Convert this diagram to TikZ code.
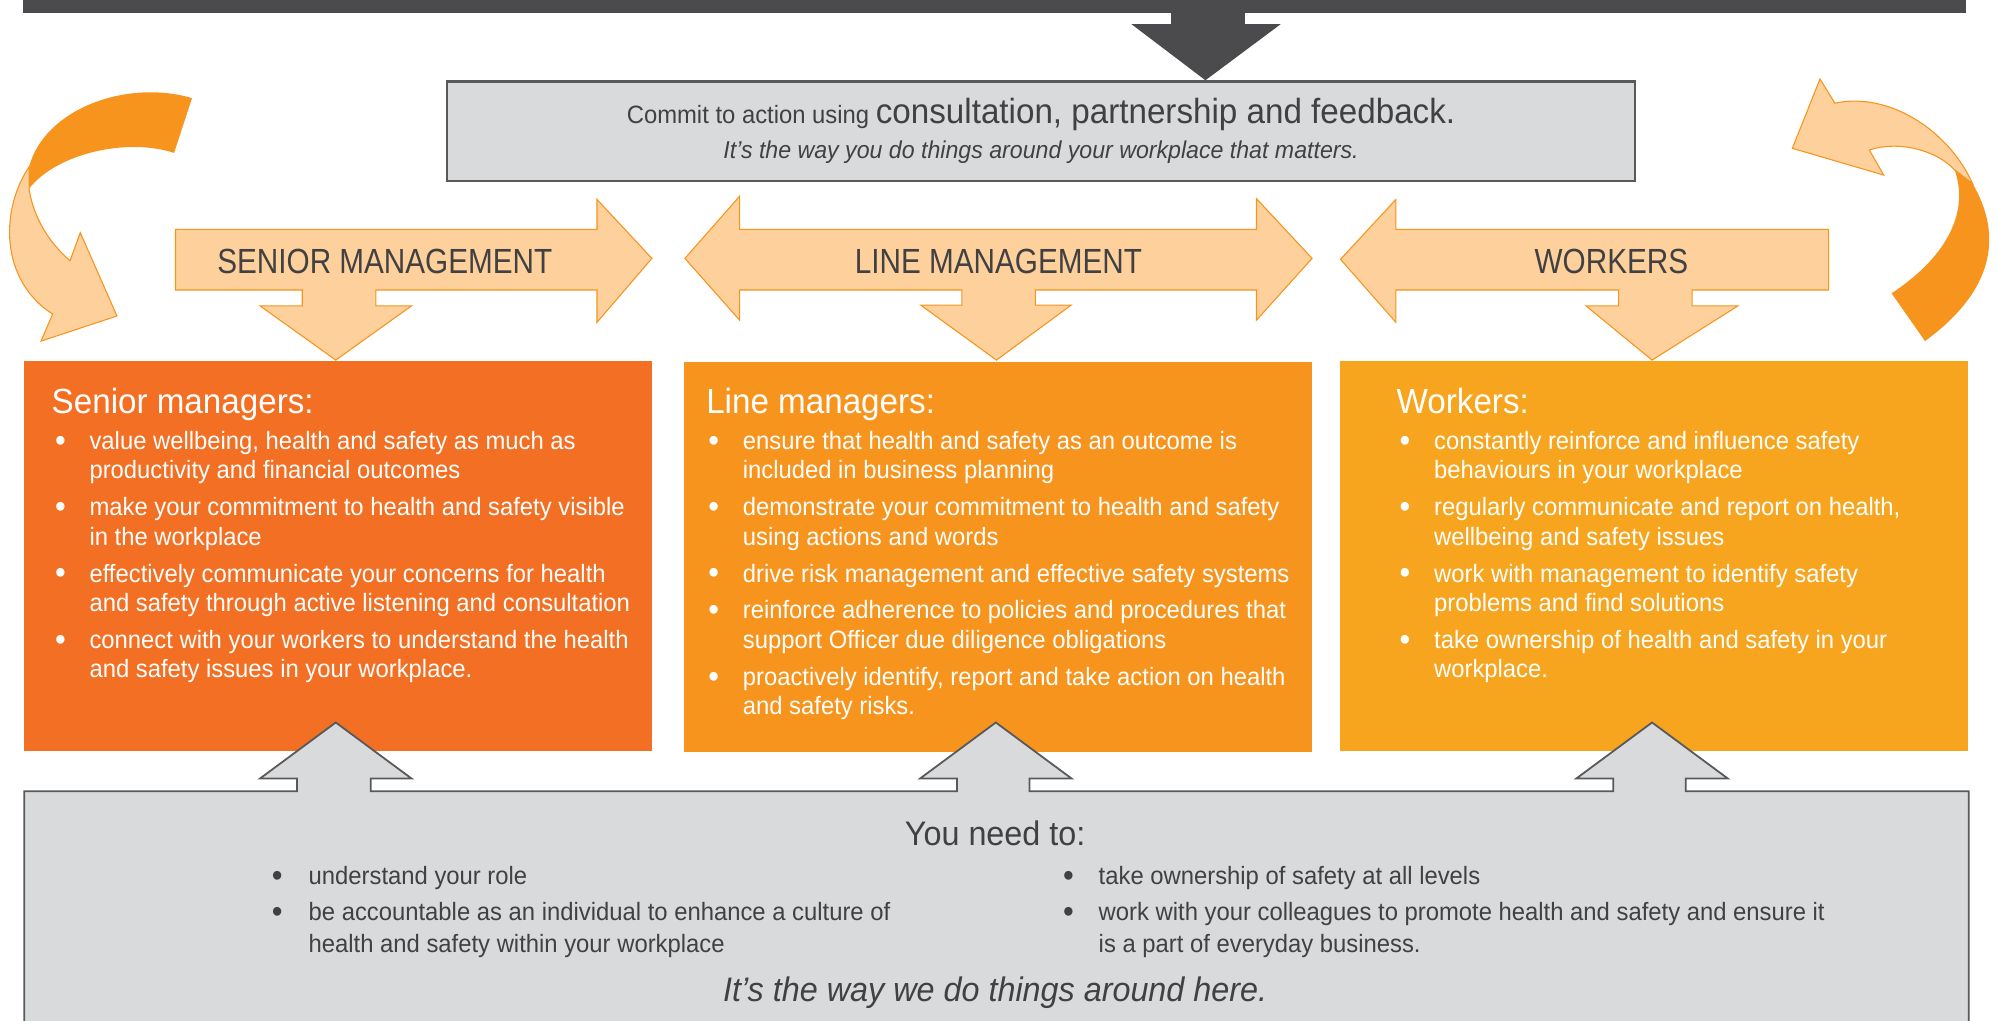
\documentclass[tikz,border=0pt]{standalone}
\usepackage{fontspec}
\setmainfont{Liberation Sans}[FakeStretch=0.95]
\newfontfamily\capsfont{Liberation Sans}[FakeStretch=0.85]
\usepackage{tikz}

\definecolor{bardark}{HTML}{4B4B4D}
\definecolor{panelgray}{HTML}{D9DADC}
\definecolor{edgegray}{HTML}{58595B}
\definecolor{textgray}{HTML}{414042}
\definecolor{seniororange}{HTML}{F26F23}
\definecolor{lineorange}{HTML}{F7941E}
\definecolor{workeramber}{HTML}{F7A51F}
\definecolor{peach}{HTML}{FDD09C}

\newcommand{\bodysize}{\fontsize{14}{16.4}\selectfont}
\newcommand{\panelsize}{\fontsize{14}{17.8}\selectfont}
\newcommand{\headsize}{\fontsize{19.5}{23}\selectfont}
\newcommand{\dotmark}{\raisebox{-1.1pt}{\fontsize{18}{18}\selectfont\textbullet}}

\begin{document}
\begin{tikzpicture}[x=0.025cm, y=-0.025cm,
    peacharrow/.style={fill=peach, draw=lineorange, line width=0.6pt},
    graybox/.style={fill=panelgray, draw=edgegray, line width=1pt},
    bandlabel/.style={text=textgray, inner sep=0pt, anchor=base, font=\capsfont\headsize},
    boxtitle/.style={text=white, inner sep=0pt, anchor=base west, font=\headsize},
    bullets/.style={text=white, inner sep=0pt, anchor=base west, font=\bodysize},
    graytext/.style={text=textgray, inner sep=0pt}]

        \useasboundingbox (0,0) rectangle (1568,801);

        % Top bar and arrow
        \fill[bardark] (18,-5) rectangle (1543,10);
        \fill[bardark] (919,5) -- (977,5) -- (977,19) -- (1005,19) -- (946,63) -- (888,19) -- (919,19) -- cycle;

        % Commit box
        \draw[graybox, line width=1.2pt] (351,64) rectangle (1283,142);
        \node[graytext, anchor=base] (commit) at (817,96.8)
            {\bodysize Commit to action using \headsize consultation, partnership and feedback.};
        \node[graytext, anchor=base, font=\fontsize{13.6}{16}\selectfont\itshape] (matters) at (817,124.3)
            {It's the way you do things around your workplace that matters.};

        % Curved arrow left
        \filldraw[peacharrow] (22.8,131) .. controls (0,165) and (0,220) .. (41.3,246.5) -- (32.2,267.7)
            -- (91.8,248) -- (63,182.6) -- (55,204.6) .. controls (38,190) and (26,170) .. (22.8,148) -- cycle;
        \fill[lineorange] (150.7,77) .. controls (100,62) and (35,85) .. (22.8,131) -- (22.8,148)
            .. controls (45,120) and (100,108) .. (136.6,120) -- cycle;

        % Curved arrow right
        \fill[lineorange] (1548,144) .. controls (1572,185) and (1565,228) .. (1510.7,267.7) -- (1484.5,230.2)
            .. controls (1530,200) and (1545,165) .. (1534,133.4) -- cycle;
        \filldraw[peacharrow] (1534,133.4) .. controls (1520,118) and (1490,110) .. (1467,117.7) -- (1478.3,137.4)
            -- (1406.6,116.4) -- (1428.3,62) -- (1440,81) .. controls (1480,72) and (1528,100) .. (1548,144) -- cycle;

        % Role boxes
        \fill[seniororange] (19,283.4) rectangle (511.6,589.2);
        \fill[lineorange] (536.8,284.1) rectangle (1029.7,590);
        \fill[workeramber] (1051.6,283.4) rectangle (1544.6,589.2);

        % Band arrows
        \filldraw[peacharrow] (137.7,180) -- (468.5,180) -- (468.5,156.5) -- (511.6,202.8) -- (468.5,253)
            -- (468.5,227.6) -- (295,227.6) -- (295,240) -- (323,240) -- (263.5,282.6) -- (204,240)
            -- (237.2,240) -- (237.2,227.6) -- (137.7,227.6) -- cycle;
        \filldraw[peacharrow] (537.5,202.8) -- (580.4,154) -- (580.4,180) -- (986.1,180) -- (986.1,156)
            -- (1029.7,202.8) -- (986.1,251.2) -- (986.1,227.6) -- (812.6,227.6) -- (812.6,239.4)
            -- (840.7,239.4) -- (782,282.6) -- (722.5,239.4) -- (754.9,239.4) -- (754.9,227.6)
            -- (580.4,227.6) -- (580.4,251.2) -- cycle;
        \filldraw[peacharrow] (1052,203.5) -- (1095.5,156.5) -- (1095.5,180) -- (1435,180) -- (1435,227.6)
            -- (1328,227.6) -- (1328,240) -- (1364,240) -- (1296.5,282.6) -- (1244.6,240) -- (1270.3,240)
            -- (1270.3,227.6) -- (1095.5,227.6) -- (1095.5,253) -- cycle;
        \node[bandlabel] (seniorband) at (302,214.5) {SENIOR MANAGEMENT};
        \node[bandlabel] (lineband) at (783.6,214.5) {LINE MANAGEMENT};
        \node[bandlabel] (workersband) at (1264.6,214.5) {WORKERS};

        % Box texts
        \node[boxtitle] (seniortitle) at (40.3,324.4) {Senior managers:};
        \node[bullets] (seniorlist) at (43,352.7) {\begin{tabular}[t]{@{}p{19.2pt}@{}l@{}}
            \dotmark & value wellbeing, health and safety as much as\\
            & productivity and financial outcomes\\[4.2pt]
            \dotmark & make your commitment to health and safety visible\\
            & in the workplace\\[4.2pt]
            \dotmark & effectively communicate your concerns for health\\
            & and safety through active listening and consultation\\[4.2pt]
            \dotmark & connect with your workers to understand the health\\
            & and safety issues in your workplace.
        \end{tabular}};

        \node[boxtitle] (linetitle) at (554,324.4) {Line managers:};
        \node[bullets] (linelist) at (555.7,352.7) {\begin{tabular}[t]{@{}p{19.2pt}@{}l@{}}
            \dotmark & ensure that health and safety as an outcome is\\
            & included in business planning\\[4.2pt]
            \dotmark & demonstrate your commitment to health and safety\\
            & using actions and words\\[4.2pt]
            \dotmark & drive risk management and effective safety systems\\[4.2pt]
            \dotmark & reinforce adherence to policies and procedures that\\
            & support Officer due diligence obligations\\[4.2pt]
            \dotmark & proactively identify, report and take action on health\\
            & and safety risks.
        \end{tabular}};

        \node[boxtitle] (workerstitle) at (1095.8,324.4) {Workers:};
        \node[bullets] (workerslist) at (1098.2,352.7) {\begin{tabular}[t]{@{}p{19.2pt}@{}l@{}}
            \dotmark & constantly reinforce and influence safety\\
            & behaviours in your workplace\\[4.2pt]
            \dotmark & regularly communicate and report on health,\\
            & wellbeing and safety issues\\[4.2pt]
            \dotmark & work with management to identify safety\\
            & problems and find solutions\\[4.2pt]
            \dotmark & take ownership of health and safety in your\\
            & workplace.
        \end{tabular}};

        % Bottom panel with arrows up
        \filldraw[graybox] (19,810) -- (19,621) -- (233,621) -- (233,611) -- (204,611) -- (263.5,567)
            -- (323,611) -- (291,611) -- (291,621) -- (751,621) -- (751,611) -- (722,611) -- (781.5,567)
            -- (841,611) -- (808,611) -- (808,621) -- (1266,621) -- (1266,611) -- (1237,611) -- (1296.5,567)
            -- (1356,611) -- (1323,611) -- (1323,621) -- (1545,621) -- (1545,810) -- cycle;

        \node[graytext, anchor=base, font=\fontsize{19}{23}\selectfont] (needto) at (781,663.3) {You need to:};
        \node[graytext, anchor=base west, font=\panelsize] (needleft) at (213,694.1) {\begin{tabular}[t]{@{}p{20.6pt}@{}l@{}}
            \dotmark & understand your role\\[2.1pt]
            \dotmark & be accountable as an individual to enhance a culture of\\
            & health and safety within your workplace
        \end{tabular}};
        \node[graytext, anchor=base west, font=\panelsize] (needright) at (834,694.1) {\begin{tabular}[t]{@{}p{19.9pt}@{}l@{}}
            \dotmark & take ownership of safety at all levels\\[2.1pt]
            \dotmark & work with your colleagues to promote health and safety and ensure it\\
            & is a part of everyday business.
        \end{tabular}};
        \node[graytext, anchor=base, font=\fontsize{19}{23}\selectfont\itshape] (aroundhere) at (781,786.2)
            {It's the way we do things around here.};

      \end{tikzpicture}
\end{document}
